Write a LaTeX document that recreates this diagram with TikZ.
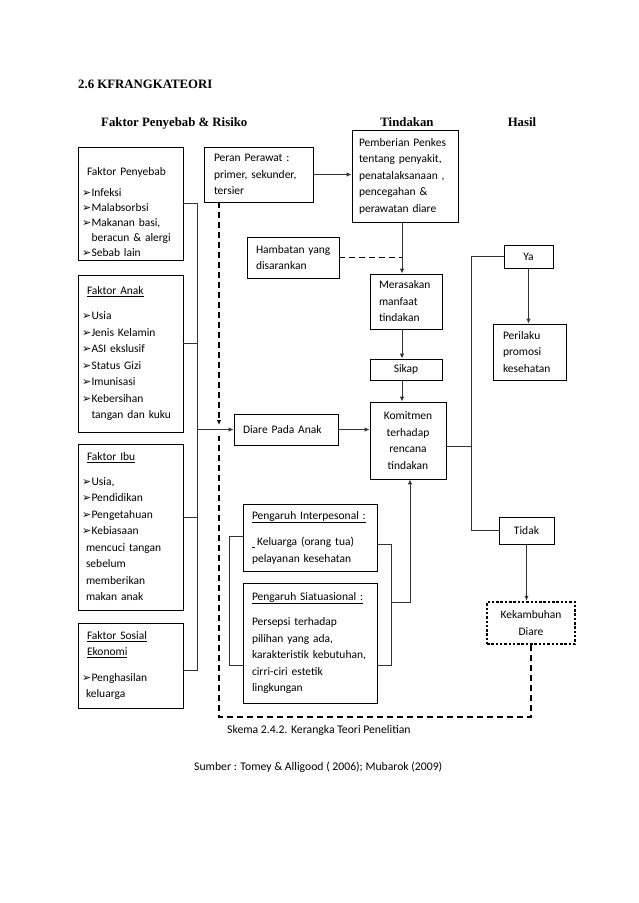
\documentclass[tikz,border=0pt]{standalone}
\usepackage{fontspec}
\setmainfont{Carlito}
\newfontfamily\serifb{Liberation Serif}
\newfontfamily\dv{DejaVu Sans}
\usetikzlibrary{arrows.meta}
\newlength\bw
\newcommand\bl{{\dv\fontsize{11}{11}\selectfont ➢}\hspace{0.3pt}}
\newcommand\pa{\hspace*{9pt}}
\newcommand\pb{\hspace*{4pt}}
\newcommand\pc{\hspace*{10pt}}
\newcommand\pd{\hspace*{7pt}}
\begin{document}
\settowidth{\bw}{\bl}
\begin{tikzpicture}[x=1pt,y=-1pt,
  box/.style={draw=black,line width=0.8pt,inner xsep=0pt,inner ysep=0pt,align=left,font=\fontsize{11.5}{16.5}\selectfont},
  cbox/.style={box,align=center},
  conn/.style={draw=black!80,line width=1pt},
  tip/.style={-{Latex[length=5pt,width=4.5pt]}},
  arr/.style={conn,tip},
  dsh/.style={draw=black,line width=1.6pt,dash pattern=on 6pt off 4pt},
  dotbox/.style={cbox,line width=2.5pt,dash pattern=on 2.5pt off 1.8pt},
  head/.style={font=\serifb\bfseries\fontsize{12.8}{14}\selectfont,inner sep=0pt},
  captxt/.style={font=\fontsize{11.7}{14}\selectfont,inner sep=0pt}]
\useasboundingbox (0,0) rectangle (638,903);

% headings
\node[head,anchor=base west] (title) at (78,88.5) {2.6 KFRANGKATEORI};
\node[head,anchor=base west] (h1) at (101,126) {Faktor Penyebab \& Risiko};
\node[head,anchor=base] (h2) at (407,126) {Tindakan};
\node[head,anchor=base] (h3) at (522,126) {Hasil};

% left column
\node[box,minimum width=105pt,minimum height=113pt,text width=105pt] (fp) at (130.5,203.5)
 {\mbox{}\\[8pt]\pa Faktor Penyebab\\[5pt]
  \pb\bl Infeksi\\[-1.7pt]
  \pb\bl Malabsorbsi\\[-1.7pt]
  \pb\bl Makanan basi,\\[-1.7pt]
  \pb\hspace*{\bw}beracun \& alergi\\[-1.7pt]
  \pb\bl Sebab lain};
\node[box,minimum width=105pt,minimum height=157pt,text width=105pt] (fa) at (130.5,353.5)
 {\pa\underline{Faktor Anak}\\[9pt]
  \pb\bl Usia\\ \pb\bl Jenis Kelamin\\ \pb\bl ASI ekslusif\\ \pb\bl Status Gizi\\
  \pb\bl Imunisasi\\ \pb\bl Kebersihan\\
  \pb\hspace*{\bw}tangan dan kuku};
\node[box,minimum width=105pt,minimum height=166pt,text width=105pt] (fi) at (130.5,527)
 {\pa\underline{Faktor Ibu}\\[8pt]
  \pb\bl Usia,\\ \pb\bl Pendidikan\\ \pb\bl Pengetahuan\\ \pb\bl Kebiasaan\\
  \pb\pb mencuci tangan\\ \pb\pb sebelum\\ \pb\pb memberikan\\ \pb\pb makan anak};
\node[box,minimum width=105pt,minimum height=85pt,text width=105pt] (fs) at (130.5,665.5)
 {\pa\underline{Faktor Sosial}\\ \pa\underline{Ekonomi}\\[9pt]
  \pb\bl Penghasilan\\ \pb\pb keluarga};

% middle
\node[box,minimum width=109pt,minimum height=55pt,text width=109pt] (pp) at (258.5,174.5)
 {\pc Peran Perawat :\\ \pc primer, sekunder,\\ \pc tersier};
\node[box,minimum width=106pt,minimum height=92pt,text width=106pt] (pk) at (405,176)
 {\pd Pemberian Penkes\\ \pd tentang penyakit,\\ \pd penatalaksanaan ,\\ \pd pencegahan \&\\ \pd perawatan diare};
\node[box,minimum width=92pt,minimum height=41pt,text width=92pt] (hy) at (293,257.5)
 {\pa Hambatan yang\\ \pa disarankan};
\node[box,minimum width=72pt,minimum height=55pt,text width=72pt] (mm) at (406,301.5)
 {\pa Merasakan\\ \pa manfaat\\ \pa tindakan};
\node[cbox,minimum width=72pt,minimum height=21pt,text width=72pt] (sk) at (406,369.5) {Sikap};
\node[cbox,minimum width=76pt,minimum height=77pt,text width=76pt] (km) at (408,440.5)
 {Komitmen\\terhadap\\rencana\\tindakan};
\node[box,minimum width=104pt,minimum height=31pt,text width=104pt] (da) at (286,429.5)
 {\pa Diare Pada Anak};
\node[box,minimum width=134pt,minimum height=67pt,text width=134pt] (pi) at (310,537.5)
 {\pa\underline{Pengaruh Interpesonal :}\\[10pt]
  \pa\underline{\hspace{2.5pt}}\hspace{2.5pt}Keluarga (orang tua)\\ \pa pelayanan kesehatan};
\node[box,minimum width=134pt,minimum height=120pt,text width=134pt] (ps) at (310,643)
 {\pa\underline{Pengaruh Siatuasional :}\\[9pt]
  \pa Persepsi terhadap\\ \pa pilihan yang ada,\\ \pa karakteristik kebutuhan,\\ \pa cirri-ciri estetik\\ \pa lingkungan};

% right
\node[cbox,minimum width=49pt,minimum height=23pt,text width=49pt] (ya) at (528.5,256.5) {Ya};
\node[box,minimum width=73pt,minimum height=56pt,text width=73pt] (pr) at (529.5,352)
 {\pc Perilaku\\ \pc promosi\\ \pc kesehatan};
\node[cbox,minimum width=55pt,minimum height=27pt,text width=55pt] (td) at (526.5,530.5) {Tidak};
\node[dotbox,minimum width=88pt,minimum height=42pt,text width=88pt] (kd) at (531,623)
 {Kekambuhan\\Diare};

% captions
\node[captxt,anchor=base west] (c1) at (227,733) {Skema 2.4.2. Kerangka Teori Penelitian};
\node[captxt,anchor=base west] (c2) at (194,770) {Sumber : Tomey \& Alligood ( 2006); Mubarok (2009)};

% helper coordinates
\coordinate (bx) at (197,0);
\coordinate (dx) at (219,0);
\coordinate (cx) at (402,0);
\coordinate (hx) at (471,0);
\coordinate (lb) at (229,0);
\coordinate (rb) at (391,0);
\coordinate (kx) at (410,0);
\coordinate (faE) at ([yshift=10.5pt]fa.east);
\coordinate (fiE) at ([yshift=10pt]fi.east);
\coordinate (fsE) at ([yshift=-4.5pt]fs.east);
\coordinate (dend) at (219,425);
\coordinate (dstart) at (219,436);
\coordinate (dbot) at (0,717);
\coordinate (kmE) at ([yshift=-5.5pt]km.east);
\coordinate (piW) at ([yshift=1.5pt]pi.west);
\coordinate (psW) at ([yshift=-22pt]ps.west);
\coordinate (piE) at ([yshift=-6.5pt]pi.east);
\coordinate (psE) at ([yshift=-22pt]ps.east);
\coordinate (jn) at (391,602);

% bus from factors
\draw[conn] (fp.east) -- (fp.east -| bx) -- (fsE -| bx) -- (fsE);
\draw[conn] (faE) -- (faE -| bx);
\draw[conn] (fiE) -- (fiE -| bx);
\draw[arr] (da.west -| bx) -- (da.west);

% dashed lines
\draw[dsh,tip] (pp.south -| dx) -- (dend);
\draw[dsh] (kd.south) -- (kd.south |- dbot) -- (dbot -| dx) -- (dstart);
\draw[dsh] (hy.east) -- (hy.east -| cx);

% action chain
\draw[arr] (pp.east) -- (pp.east -| pk.west);
\draw[arr] (pk.south -| cx) -- (mm.north -| cx);
\draw[arr] (mm.south -| cx) -- (sk.north -| cx);
\draw[arr] (sk.south -| cx) -- (km.north -| cx);
\draw[arr] (da.east) -- (da.east -| km.west);

% results
\draw[conn] (kmE) -- (kmE -| hx);
\draw[conn] (ya.west) -- (ya.west -| hx) -- (td.west -| hx) -- (td.west);
\draw[arr] (ya.south) -- (ya.south |- pr.north);
\draw[arr] (td.south) -- (td.south |- kd.north);

% influences
\draw[conn] (piW) -- (piW -| lb) -- (psW -| lb) -- (psW);
\draw[conn] (piE) -- (piE -| rb) -- (psE -| rb) -- (psE);
\draw[arr] (jn) -- (jn -| kx) -- (km.south -| kx);
\end{tikzpicture}
\end{document}
